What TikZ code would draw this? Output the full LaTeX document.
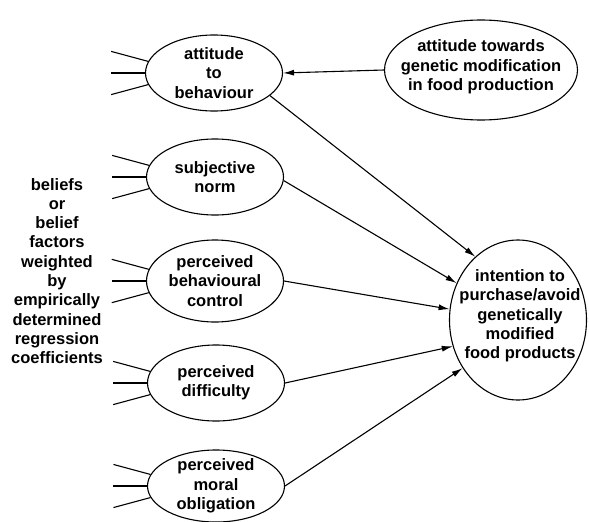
\documentclass[tikz,border=0pt]{standalone}
\usepackage{fontspec}
\setmainfont{Liberation Sans}
\usetikzlibrary{shapes.geometric,arrows.meta,calc}
\begin{document}
\begin{tikzpicture}[x=1pt,y=-1pt,
  lbl/.style={font=\fontsize{16.5}{19.3}\selectfont\bfseries, align=center},
  oval/.style={draw, ellipse, line width=1.1pt, inner sep=0pt, minimum width=137pt, minimum height=76pt},
  stub/.style={line width=1.1pt},
  arr/.style={line width=1.1pt, -{Latex[length=11pt,width=6pt]}}]
\useasboundingbox (0,0) rectangle (589,522);
\fill[white] (0,0) rectangle (589,522);
\node[oval] (att) at (214,73) {};
\node[lbl] (attt) at (att) {attitude\\to\\behaviour};
\node[oval] (sn) at (215,177) {};
\node[lbl] (snt) at (sn) {subjective\\norm};
\node[oval, minimum height=82pt] (pbc) at (215,281) {};
\node[lbl] (pbct) at (pbc) {perceived\\behavioural\\control};
\node[oval] (pd) at (216,383) {};
\node[lbl] (pdt) at (pd) {perceived\\difficulty};
\node[oval, minimum height=72pt] (pmo) at (216,486) {};
\node[lbl] (pmot) at (pmo) {perceived\\moral\\obligation};
\node[oval, minimum width=193pt, minimum height=100pt] (gm) at (481,70) {};
\node[lbl] (gmt) at (481,67) {attitude towards\\genetic modification\\in food production};
\node[oval, minimum width=137pt, minimum height=160pt] (int) at (518,320) {};
\node[lbl] (intt) at (520,316) {intention to\\purchase/avoid\\genetically\\modified\\food products};
\node[lbl] (bel) at (57,271) {beliefs\\or\\belief\\factors\\weighted\\by\\empirically\\determined\\regression\\coefficients};
\foreach \n in {att,sn,pbc,pd,pmo} {
  \coordinate (\n a) at ($(\n.170)+(-37,-10)$);
  \coordinate (\n b) at ($(\n.west)+(-34,0)$);
  \coordinate (\n c) at ($(\n.190)+(-37,10)$);
  \draw[stub] (\n a) -- (\n.170);
  \draw[stub] (\n b) -- (\n.west);
  \draw[stub] (\n c) -- (\n.190);
}
\draw[arr] (gm.west) -- (att.east);
\draw[arr] (att.-22) -- (int.124);
\draw[arr] (sn.-3) -- (int.149);
\draw[arr] (pbc.east) -- (int.171);
\draw[arr] (pd.east) -- (int.202);
\draw[arr] (pmo.east) -- (int.221);
\end{tikzpicture}
\end{document}
